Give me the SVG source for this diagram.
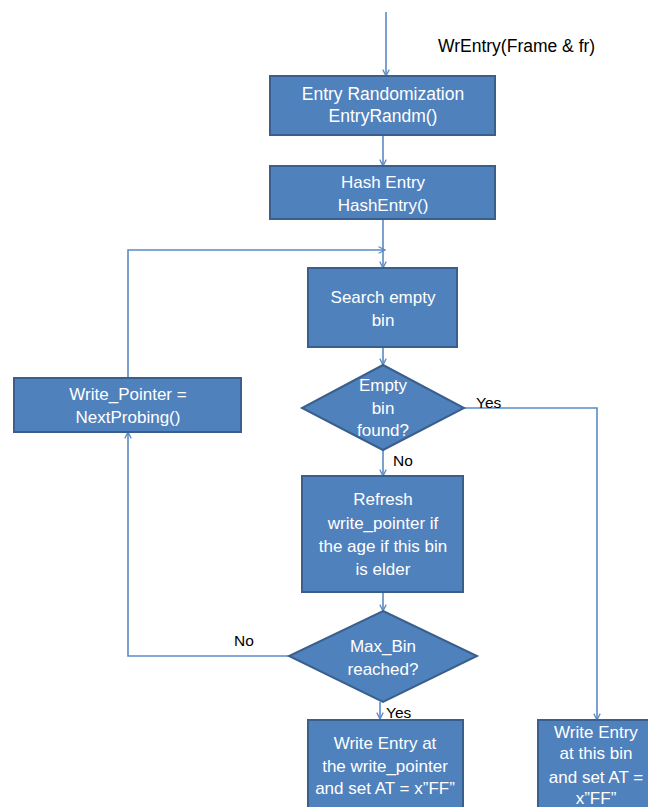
<svg xmlns="http://www.w3.org/2000/svg" width="648" height="807" viewBox="0 0 648 807">
  <style>
    .box { fill: #4F81BD; stroke: #3A5F8C; stroke-width: 2; }
    .t { font-family: "Liberation Sans", Arial, sans-serif; font-size: 17px; fill: #FFFFFF; text-anchor: middle; }
    .lbl { font-family: "Liberation Sans", Arial, sans-serif; font-size: 15.5px; fill: #000000; }
    .wire { fill: none; stroke: #5A8AC6; stroke-width: 1.6; }
  </style>
  <defs>
    <marker id="arrow" viewBox="0 0 10 10" refX="9" refY="5" markerWidth="8" markerHeight="8" orient="auto" markerUnits="userSpaceOnUse">
      <path d="M1,1 L9,5 L1,9" fill="none" stroke="#5A8AC6" stroke-width="1.6"/>
    </marker>
  </defs>
  <rect width="648" height="807" fill="#FFFFFF"/>

  <!-- connectors -->
  <g id="connectors">
    <line class="wire" x1="386" y1="12" x2="386" y2="76" marker-end="url(#arrow)"/>
    <line class="wire" x1="383" y1="135" x2="383" y2="166" marker-end="url(#arrow)"/>
    <line class="wire" x1="383" y1="219" x2="383" y2="268" marker-end="url(#arrow)"/>
    <polyline class="wire" points="128,378 128,250 385,250" marker-end="url(#arrow)"/>
    <line class="wire" x1="383" y1="347" x2="383" y2="365" marker-end="url(#arrow)"/>
    <line class="wire" x1="383" y1="450" x2="383" y2="476" marker-end="url(#arrow)"/>
    <polyline class="wire" points="464,408 597,408 597,720" marker-end="url(#arrow)"/>
    <line class="wire" x1="383" y1="592" x2="383" y2="611" marker-end="url(#arrow)"/>
    <polyline class="wire" points="289,656 128,656 128,432" marker-end="url(#arrow)"/>
    <line class="wire" x1="380" y1="702" x2="380" y2="719" marker-end="url(#arrow)"/>
    <text class="lbl" x="438" y="52" style="font-size:17.5px">WrEntry(Frame &amp; fr)</text>
    <text class="lbl" x="476" y="408">Yes</text>
    <text class="lbl" x="393" y="466">No</text>
    <text class="lbl" x="234" y="646">No</text>
    <text class="lbl" x="386" y="718">Yes</text>
  </g>

  <g id="entry-randomization">
    <rect class="box" x="270" y="76" width="225" height="59"/>
    <text class="t" x="383" y="100" style="font-size:17.5px">Entry Randomization</text>
    <text class="t" x="383" y="122" style="font-size:17.5px">EntryRandm()</text>
  </g>

  <g id="hash-entry">
    <rect class="box" x="270" y="166" width="225" height="53"/>
    <text class="t" x="383" y="188">Hash Entry</text>
    <text class="t" x="383" y="211">HashEntry()</text>
  </g>

  <g id="search-empty-bin">
    <rect class="box" x="308" y="268" width="149" height="79"/>
    <text class="t" x="383" y="303">Search empty</text>
    <text class="t" x="383" y="326">bin</text>
  </g>

  <g id="next-probing">
    <rect class="box" x="14" y="378" width="227" height="54"/>
    <text class="t" x="128" y="400">Write_Pointer =</text>
    <text class="t" x="128" y="423">NextProbing()</text>
  </g>

  <g id="empty-bin-found">
    <polygon class="box" points="383,365 464,408 383,450 302,408"/>
    <text class="t" x="383" y="391">Empty</text>
    <text class="t" x="383" y="414">bin</text>
    <text class="t" x="383" y="436">found?</text>
  </g>

  <g id="refresh-write-pointer">
    <rect class="box" x="302" y="476" width="161" height="116"/>
    <text class="t" x="383" y="505">Refresh</text>
    <text class="t" x="383" y="529">write_pointer if</text>
    <text class="t" x="383" y="552">the age if this bin</text>
    <text class="t" x="383" y="575">is elder</text>
  </g>

  <g id="max-bin-reached">
    <polygon class="box" points="383,611 477,656 383,702 289,656"/>
    <text class="t" x="383" y="652">Max_Bin</text>
    <text class="t" x="383" y="675">reached?</text>
  </g>

  <g id="write-at-pointer">
    <rect class="box" x="308" y="720" width="155" height="100"/>
    <text class="t" x="385" y="749">Write Entry at</text>
    <text class="t" x="385" y="772">the write_pointer</text>
    <text class="t" x="385" y="794">and set AT = x”FF”</text>
  </g>

  <g id="write-at-bin">
    <rect class="box" x="538" y="720" width="120" height="100"/>
    <text class="t" x="596" y="738">Write Entry</text>
    <text class="t" x="596" y="759">at this bin</text>
    <text class="t" x="596" y="783">and set AT =</text>
    <text class="t" x="596" y="804">x”FF”</text>
  </g>
</svg>
